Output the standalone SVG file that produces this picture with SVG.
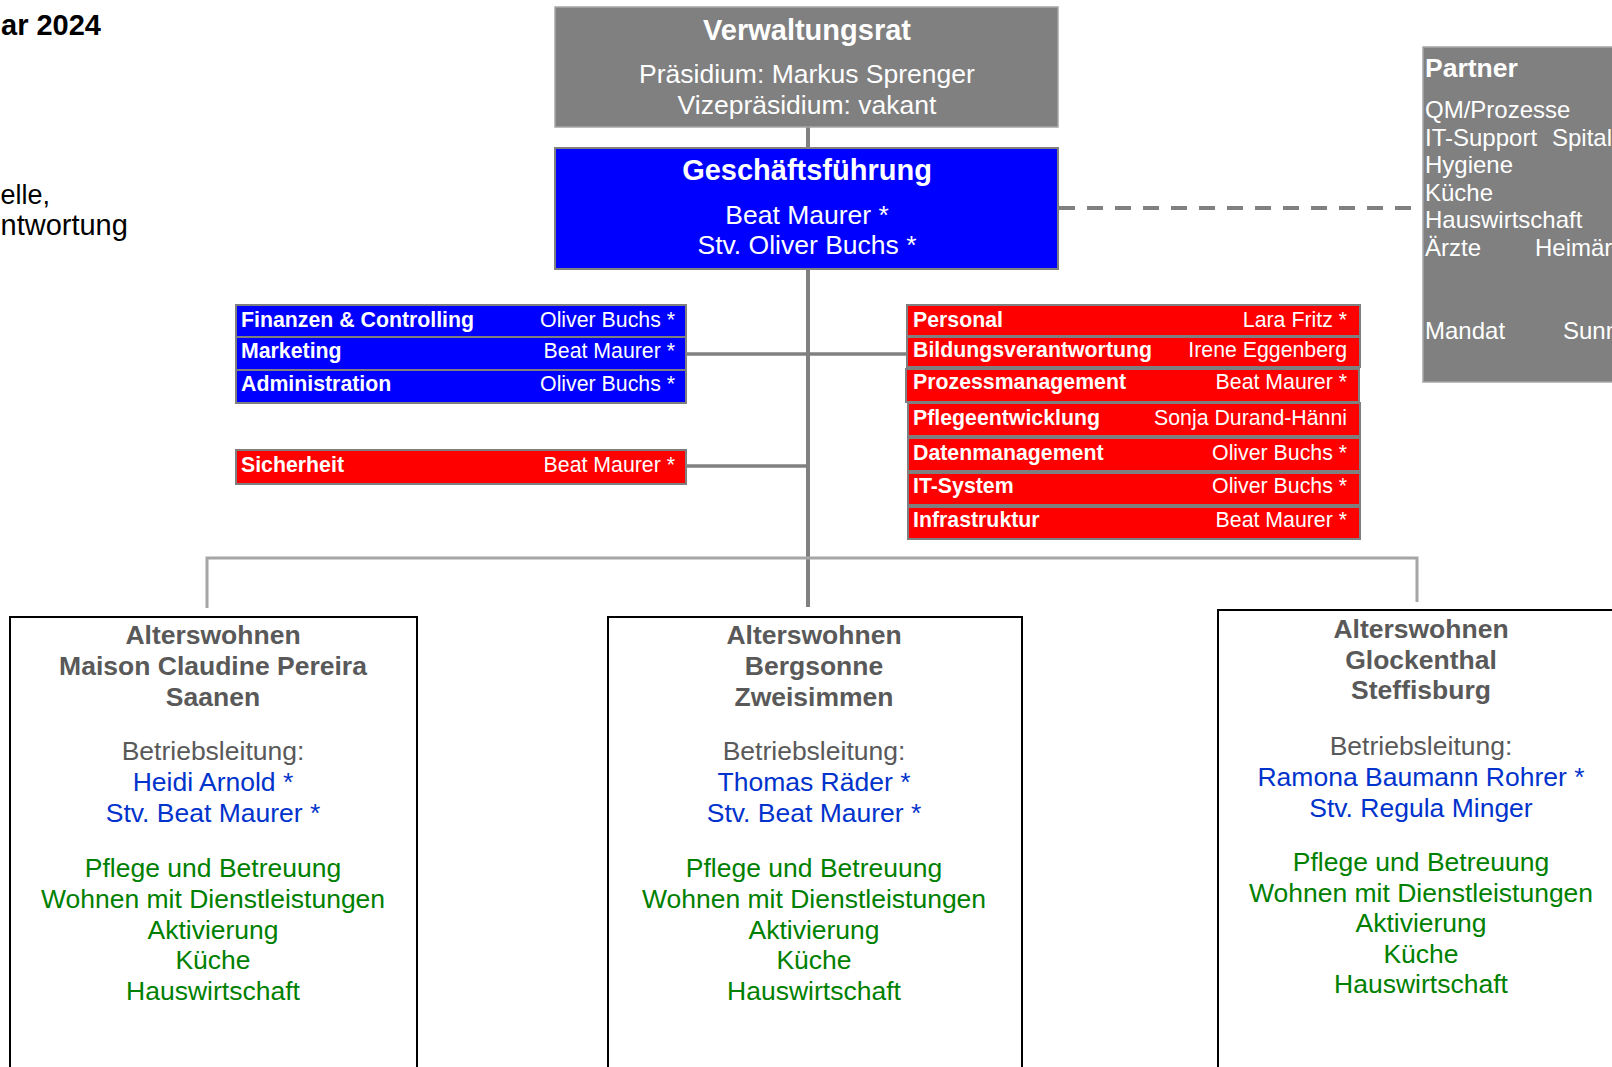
<svg xmlns="http://www.w3.org/2000/svg" width="1612" height="1067" viewBox="0 0 1612 1067">
<style>
text{font-family:"Liberation Sans",Arial,sans-serif}
.b{font-weight:bold}
.w{fill:#fff}
.hd{fill:#595959;font-weight:bold;font-size:26.5px;text-anchor:middle}
.lb{fill:#595959;font-size:26.5px;text-anchor:middle}
.nm{fill:#0033cc;font-size:26.5px;text-anchor:middle}
.gr{fill:#008000;font-size:26.5px;text-anchor:middle}
.sm{font-size:21.3px;fill:#fff}
.r{text-anchor:end}
.bx{stroke:#7f7f7f;stroke-width:2}
.site{fill:#fff;stroke:#000;stroke-width:2}
.pt{font-size:24px;fill:#fff}
</style>
<rect width="1612" height="1067" fill="#fff"/>
<g id="title">
<text x="1" y="35" class="b" font-size="29" fill="#000">ar 2024</text>
<text x="0.5" y="204" font-size="27" fill="#000">elle,</text>
<text x="0.5" y="235" font-size="29" fill="#000">ntwortung</text>
</g>
<g id="connectors" fill="none">
<line x1="808" y1="127" x2="808" y2="147" stroke="#808080" stroke-width="4"/>
<line x1="808" y1="269" x2="808" y2="607" stroke="#808080" stroke-width="4"/>
<line x1="686" y1="354" x2="907" y2="354" stroke="#808080" stroke-width="3.5"/>
<line x1="686" y1="466" x2="808" y2="466" stroke="#808080" stroke-width="3.5"/>
<polyline points="207,608 207,558 1417,558 1417,602" stroke="#a6a6a6" stroke-width="3"/>
<line x1="1059" y1="208" x2="1415" y2="208" stroke="#808080" stroke-width="4" stroke-dasharray="16,12"/>
</g>
<g id="verwaltungsrat">
<rect x="555" y="7" width="503" height="120" fill="#808080" stroke="#a6a6a6" stroke-width="1.5"/>
<text x="807" y="40" class="b w" font-size="29" text-anchor="middle">Verwaltungsrat</text>
<text x="807" y="83" class="w" font-size="26.5" text-anchor="middle">Präsidium: Markus Sprenger</text>
<text x="807" y="114" class="w" font-size="26.5" text-anchor="middle">Vizepräsidium: vakant</text>
</g>
<g id="geschaeftsfuehrung">
<rect x="555" y="148" width="503" height="121" fill="#0000ff" stroke="#808080" stroke-width="2"/>
<text x="807" y="180" class="b w" font-size="29" text-anchor="middle">Geschäftsführung</text>
<text x="807" y="224" class="w" font-size="26.5" text-anchor="middle">Beat Maurer *</text>
<text x="807" y="254" class="w" font-size="26.5" text-anchor="middle">Stv. Oliver Buchs *</text>
</g>
<g id="partner">
<rect x="1423" y="47" width="200" height="335" fill="#808080" stroke="#a6a6a6" stroke-width="1.5"/>
<text x="1425" y="77" class="b" font-size="26.5" fill="#fff">Partner</text>
<text x="1425" y="118" class="pt">QM/Prozesse</text>
<text x="1425" y="146" class="pt">IT-Support</text>
<text x="1552" y="146" class="pt">Spital</text>
<text x="1425" y="173" class="pt">Hygiene</text>
<text x="1425" y="201" class="pt">Küche</text>
<text x="1425" y="228" class="pt">Hauswirtschaft</text>
<text x="1425" y="256" class="pt">Ärzte</text>
<text x="1535" y="256" class="pt">Heimär</text>
<text x="1425" y="339" class="pt">Mandat</text>
<text x="1563" y="339" class="pt">Sunn</text>
</g>
<g id="stab-blau">
<rect x="236" y="305" width="450" height="32" fill="#0000ff" class="bx"/>
<rect x="236" y="337" width="450" height="33" fill="#0000ff" class="bx"/>
<rect x="236" y="370" width="450" height="33" fill="#0000ff" class="bx"/>
<text x="241" y="327" class="sm b">Finanzen &amp; Controlling</text>
<text x="675" y="327" class="sm r">Oliver Buchs *</text>
<text x="241" y="358" class="sm b">Marketing</text>
<text x="675" y="358" class="sm r">Beat Maurer *</text>
<text x="241" y="391" class="sm b">Administration</text>
<text x="675" y="391" class="sm r">Oliver Buchs *</text>
</g>
<g id="sicherheit">
<rect x="236" y="450" width="450" height="34" fill="#ff0000" class="bx"/>
<text x="241" y="472" class="sm b">Sicherheit</text>
<text x="675" y="472" class="sm r">Beat Maurer *</text>
</g>
<g id="stab-rot">
<rect x="907" y="305" width="453" height="31" fill="#ff0000" class="bx"/>
<rect x="907" y="337" width="453" height="30" fill="#ff0000" class="bx"/>
<rect x="906" y="369" width="453" height="33" fill="#ff0000" class="bx"/>
<rect x="908" y="403" width="452" height="33" fill="#ff0000" class="bx"/>
<rect x="908" y="438" width="452" height="33" fill="#ff0000" class="bx"/>
<rect x="908" y="473" width="452" height="32" fill="#ff0000" class="bx"/>
<rect x="908" y="507" width="452" height="32" fill="#ff0000" class="bx"/>
<text x="913" y="327" class="sm b">Personal</text>
<text x="1347" y="327" class="sm r">Lara Fritz *</text>
<text x="913" y="357" class="sm b">Bildungsverantwortung</text>
<text x="1347" y="357" class="sm r">Irene Eggenberg</text>
<text x="913" y="389" class="sm b">Prozessmanagement</text>
<text x="1347" y="389" class="sm r">Beat Maurer *</text>
<text x="913" y="425" class="sm b">Pflegeentwicklung</text>
<text x="1347" y="425" class="sm r">Sonja Durand-Hänni</text>
<text x="913" y="460" class="sm b">Datenmanagement</text>
<text x="1347" y="460" class="sm r">Oliver Buchs *</text>
<text x="913" y="493" class="sm b">IT-System</text>
<text x="1347" y="493" class="sm r">Oliver Buchs *</text>
<text x="913" y="527" class="sm b">Infrastruktur</text>
<text x="1347" y="527" class="sm r">Beat Maurer *</text>
</g>
<g id="saanen">
<rect x="10" y="617" width="407" height="470" class="site"/>
<text x="213" y="644" class="hd">Alterswohnen</text>
<text x="213" y="675" class="hd">Maison Claudine Pereira</text>
<text x="213" y="706" class="hd">Saanen</text>
<text x="213" y="760" class="lb">Betriebsleitung:</text>
<text x="213" y="791" class="nm">Heidi Arnold *</text>
<text x="213" y="822" class="nm">Stv. Beat Maurer *</text>
<text x="213" y="877" class="gr">Pflege und Betreuung</text>
<text x="213" y="908" class="gr">Wohnen mit Dienstleistungen</text>
<text x="213" y="939" class="gr">Aktivierung</text>
<text x="213" y="969" class="gr">Küche</text>
<text x="213" y="1000" class="gr">Hauswirtschaft</text>
</g>
<g id="zweisimmen">
<rect x="608" y="617" width="414" height="470" class="site"/>
<text x="814" y="644" class="hd">Alterswohnen</text>
<text x="814" y="675" class="hd">Bergsonne</text>
<text x="814" y="706" class="hd">Zweisimmen</text>
<text x="814" y="760" class="lb">Betriebsleitung:</text>
<text x="814" y="791" class="nm">Thomas Räder *</text>
<text x="814" y="822" class="nm">Stv. Beat Maurer *</text>
<text x="814" y="877" class="gr">Pflege und Betreuung</text>
<text x="814" y="908" class="gr">Wohnen mit Dienstleistungen</text>
<text x="814" y="939" class="gr">Aktivierung</text>
<text x="814" y="969" class="gr">Küche</text>
<text x="814" y="1000" class="gr">Hauswirtschaft</text>
</g>
<g id="steffisburg">
<rect x="1218" y="610" width="414" height="470" class="site"/>
<text x="1421" y="638" class="hd">Alterswohnen</text>
<text x="1421" y="669" class="hd">Glockenthal</text>
<text x="1421" y="699" class="hd">Steffisburg</text>
<text x="1421" y="755" class="lb">Betriebsleitung:</text>
<text x="1421" y="786" class="nm">Ramona Baumann Rohrer *</text>
<text x="1421" y="817" class="nm">Stv. Regula Minger</text>
<text x="1421" y="871" class="gr">Pflege und Betreuung</text>
<text x="1421" y="902" class="gr">Wohnen mit Dienstleistungen</text>
<text x="1421" y="932" class="gr">Aktivierung</text>
<text x="1421" y="963" class="gr">Küche</text>
<text x="1421" y="993" class="gr">Hauswirtschaft</text>
</g>
</svg>
